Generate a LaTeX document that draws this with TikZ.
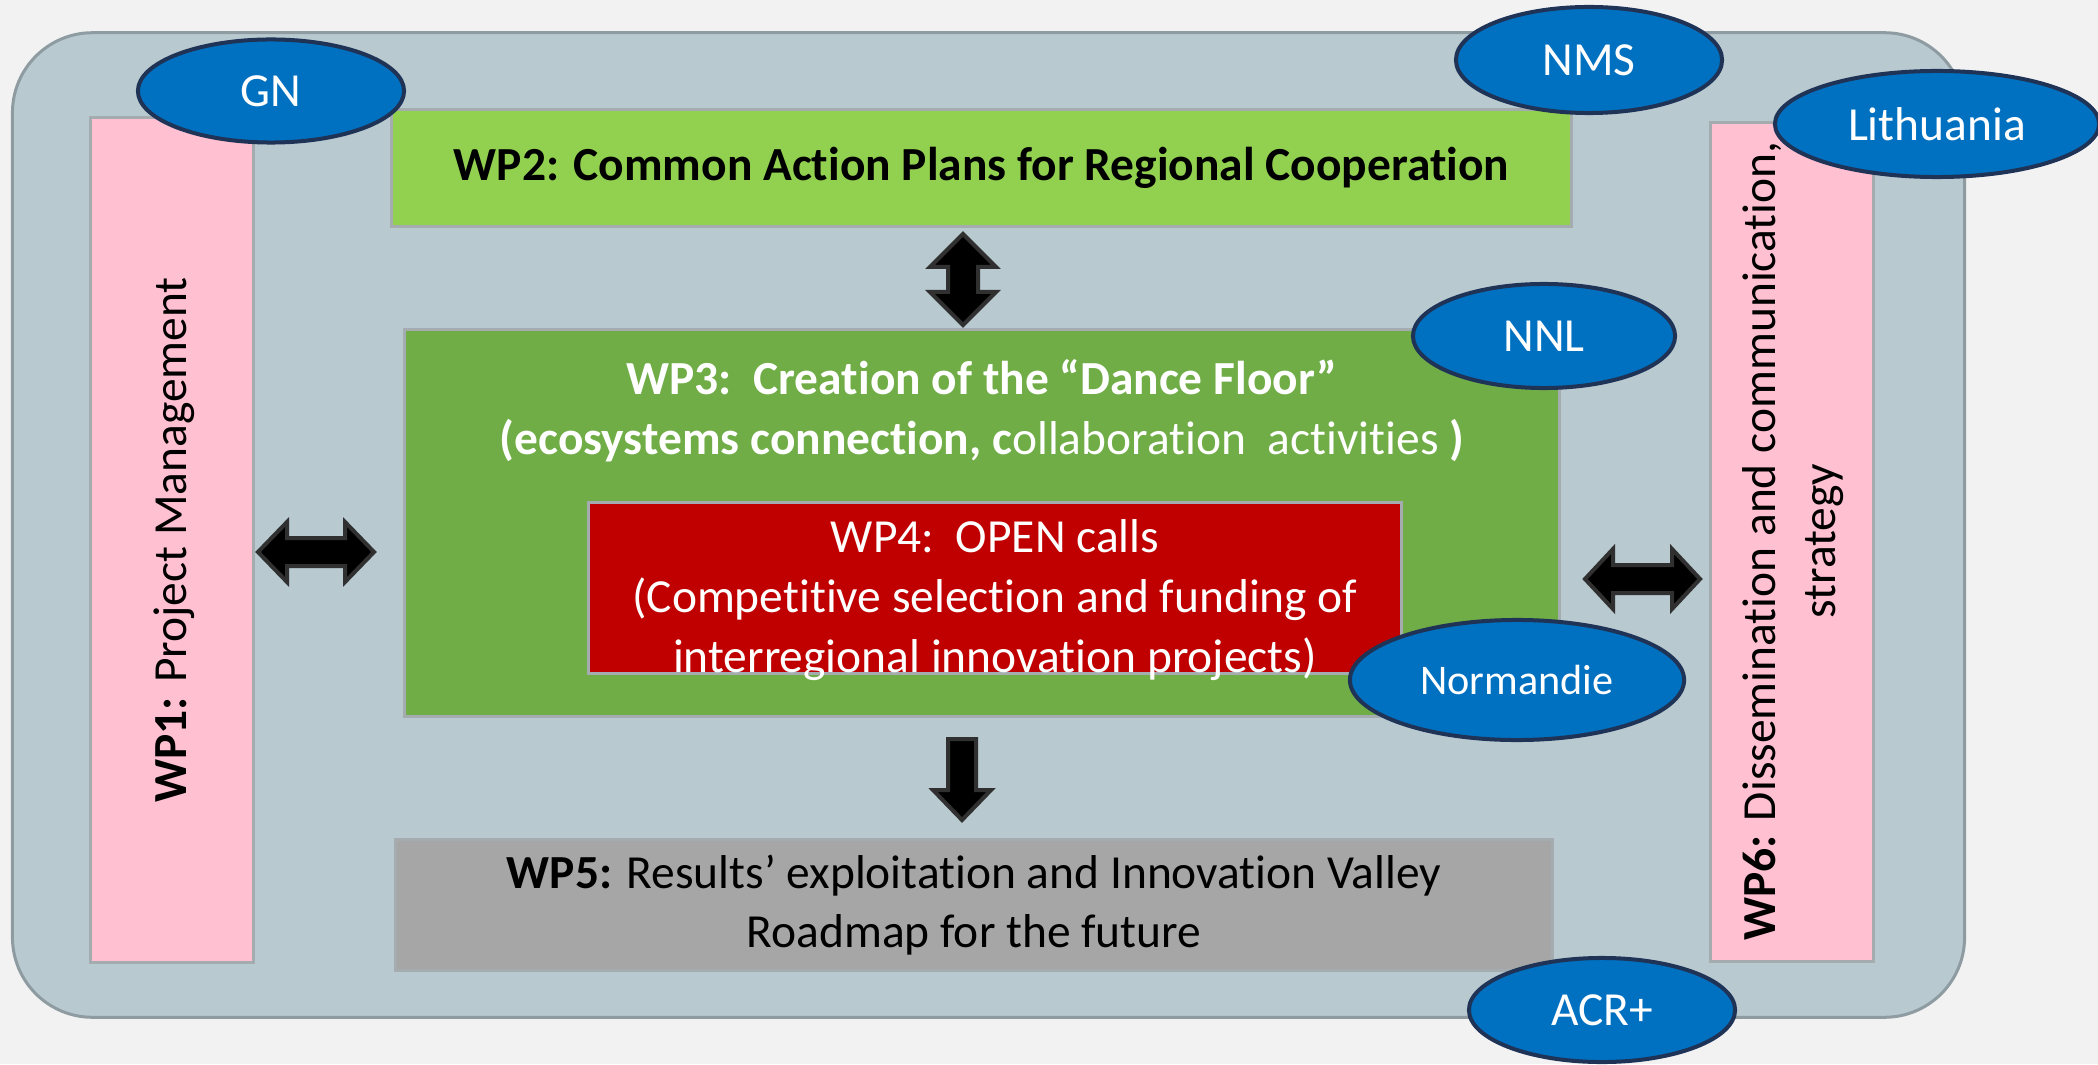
\documentclass[tikz,border=0pt]{standalone}
\usepackage{fontspec}
\setmainfont{Carlito}[Ligatures=NoCommon, RawFeature=-liga]
\usetikzlibrary{shapes.geometric}

\definecolor{pagebg}{HTML}{F2F2F2}
\definecolor{panelbg}{HTML}{B8C9CF}
\definecolor{panelline}{HTML}{8E9CA2}
\definecolor{boxline}{HTML}{A5ACB0}
\definecolor{wppink}{HTML}{FFC0D2}
\definecolor{wplime}{HTML}{92D050}
\definecolor{wpgreen}{HTML}{70AD47}
\definecolor{wpred}{HTML}{C00000}
\definecolor{wpgrey}{HTML}{A6A6A6}
\definecolor{partnerblue}{HTML}{0070C0}
\definecolor{partnerline}{HTML}{1F3357}
\definecolor{arrowline}{HTML}{303030}

\tikzset{
  wpbox/.style={draw=boxline, line width=0.3mm, inner sep=0pt},
  wptext/.style={align=center, inner sep=0pt, font=\fontsize{13.5}{17}\selectfont},
  partner/.style={ellipse, draw=partnerline, line width=0.4mm, fill=partnerblue,
    text=white, inner sep=0pt, font=\fontsize{13.5}{16}\selectfont},
  blockarrow/.style={fill=black, draw=arrowline, line width=0.4mm, line join=miter},
}

\begin{document}
\begin{tikzpicture}[x=0.01cm, y=-0.01cm]
			%%%%% START %%%%%
			
			\fill[pagebg] (0,0) rectangle (2098,1064);
			\useasboundingbox (0,0) rectangle (2098,1064);
			
			\node[draw=panelline, line width=0.3mm, fill=panelbg, rounded corners=0.8cm,
			      minimum width=19.51cm, minimum height=9.84cm] (panel) at (988.5,525) {};
			
			% work packages
			\node[wpbox, fill=wppink, minimum width=1.62cm, minimum height=8.44cm] (wp1) at (172,540) {};
			\node[wptext, rotate=90] (wp1text) at (174,540) {\textbf{WP1:} Project Management};
			
			\node[wpbox, fill=wplime, minimum width=11.79cm, minimum height=1.16cm,
			      wptext] (wp2) at (981.5,168) {\textbf{WP2: Common Action Plans for Regional Cooperation}};
			
			\node[wpbox, fill=wpgreen, minimum width=11.54cm, minimum height=3.86cm] (wp3) at (982,523) {};
			\node[wptext, text=white] (wp3text) at (982,411)
			  {\textbf{WP3:\ \ Creation of the “Dance Floor”}\\
			   \textbf{(ecosystems connection, c}ollaboration\ \ activities \textbf{)}};
			
			\node[wpbox, fill=wpred, minimum width=8.12cm, minimum height=1.70cm] (wp4) at (995,588) {};
			\node[wptext, text=white] (wp4text) at (995,600)
			  {WP4:\ \ OPEN calls\\ (Competitive selection and funding of\\ interregional innovation projects)};
			
			\node[wpbox, fill=wpgrey, minimum width=11.56cm, minimum height=1.31cm,
			      wptext] (wp5) at (974,905) {\textbf{WP5:} Results’ exploitation and Innovation Valley\\ Roadmap for the future};
			
			\node[wpbox, fill=wppink, minimum width=1.62cm, minimum height=8.39cm] (wp6) at (1792,542) {};
			\node[wptext, rotate=90] (wp6text) at (1793,541)
			  {\textbf{WP6:} Dissemination and communication,\\ strategy};
			
			% block arrows
			\draw[blockarrow] (963,234) -- (996,267) -- (978,267) -- (978,292) -- (996,292)
			  -- (963,325) -- (930,292) -- (948,292) -- (948,267) -- (930,267) -- cycle;
			\draw[blockarrow] (258,552) -- (287,522) -- (287,538) -- (345,538) -- (345,522)
			  -- (374,552) -- (345,582) -- (345,566) -- (287,566) -- (287,582) -- cycle;
			\draw[blockarrow] (1585,579) -- (1613,549) -- (1613,565) -- (1672,565) -- (1672,549)
			  -- (1700,579) -- (1672,609) -- (1672,593) -- (1613,593) -- (1613,609) -- cycle;
			\draw[blockarrow] (948,739) -- (976,739) -- (976,790) -- (991,790)
			  -- (962,820) -- (933,790) -- (948,790) -- cycle;
			
			% partners
			\node[partner, minimum width=2.66cm, minimum height=1.03cm] (gn) at (271,91) {GN};
			\node[partner, minimum width=2.66cm, minimum height=1.06cm] (nms) at (1589,60) {NMS};
			\node[partner, minimum width=3.24cm, minimum height=1.06cm] (lithuania) at (1937,124) {Lithuania};
			\node[partner, minimum width=2.62cm, minimum height=1.04cm] (nnl) at (1544,336) {NNL};
			\node[partner, minimum width=3.34cm, minimum height=1.20cm,
			      font=\fontsize{12}{14}\selectfont] (normandie) at (1517,680) {Normandie};
			\node[partner, minimum width=2.66cm, minimum height=1.04cm] (acr) at (1602,1010) {ACR+};
			
			%%%%% END %%%%%
\end{tikzpicture}
\end{document}
